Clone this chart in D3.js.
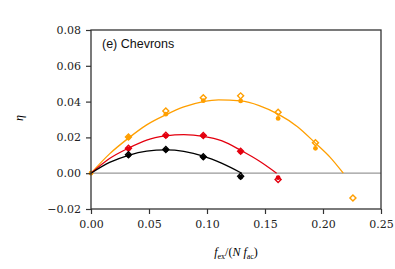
<!DOCTYPE html>
<meta charset="utf-8">
<style>
body{ margin:0; background:#fff; }
svg text{ font-family: "DejaVu Serif", "Liberation Serif", serif; }
</style>
<div id="chart"></div>
<script src="https://cdn.jsdelivr.net/npm/d3@7"></script>
<script>

// measured points (x, filled marker, open diamond)
var xs = [0, 0.0323, 0.0645, 0.0968, 0.129, 0.1613, 0.1935, 0.2258]

var orangeFilled = [0, 0.0200, 0.0330, 0.0405, 0.0404, 0.0306, 0.0139, null]
var orangeOpen   = [null, 0.0202, 0.0347, 0.0422, 0.0432, 0.0340, 0.0170, -0.0138]
var redFilled    = [null, 0.0136, 0.0208, 0.0208, 0.0120, -0.0025, null, null]
var redOpen      = [null, 0.0140, 0.0212, 0.0210, 0.0123, -0.0035, null, null]
var blackFilled  = [null, 0.0100, 0.0130, 0.0089, -0.0022, null, null, null]
var blackOpen    = [null, 0.0103, 0.0133, 0.0092, -0.0017, null, null, null]

// fitted curves
var orangeFitX = [0, 0.016, 0.0323, 0.048, 0.0645, 0.08, 0.0968, 0.11, 0.129, 0.145, 0.1613, 0.178, 0.1935, 0.206, 0.2175]
var orangeFitY = [0, 0.0108, 0.0196, 0.0270, 0.0326, 0.0370, 0.0400, 0.0410, 0.0404, 0.0378, 0.0330, 0.0260, 0.0168, 0.0090, 0]
var redFitX = [0, 0.016, 0.0323, 0.048, 0.0645, 0.08, 0.0968, 0.113, 0.129, 0.145, 0.160]
var redFitY = [0, 0.0082, 0.0140, 0.0185, 0.0208, 0.0215, 0.0206, 0.0180, 0.0128, 0.0068, 0]
var blackFitX = [0, 0.016, 0.0323, 0.048, 0.0645, 0.08, 0.0968, 0.113, 0.130]
var blackFitY = [0, 0.0060, 0.0100, 0.0123, 0.0130, 0.0122, 0.0096, 0.0055, 0]

var xTicks = [0, 0.05, 0.10, 0.15, 0.20, 0.25]
var yTicks = [-0.02, 0, 0.02, 0.04, 0.06, 0.08]

var W = 395, H = 269
var m = {top: 30, right: 14, bottom: 60, left: 91}

var svg = d3.select('#chart').append('svg')
    .attr('width', W).attr('height', H)

var x = d3.scaleLinear().domain([0, 0.25]).range([m.left, W - m.right])
var y = d3.scaleLinear().domain([-0.02, 0.08]).range([H - m.bottom, m.top])

// zero line
svg.append('line')
    .attr('x1', x(0)).attr('x2', x(0.25))
    .attr('y1', y(0)).attr('y2', y(0))
    .attr('stroke', '#999').attr('stroke-width', 1.2)

var series = [
  {color: '#ff9f00', fx: orangeFitX, fy: orangeFitY, filled: orangeFilled, open: orangeOpen},
  {color: '#e4000f', fx: redFitX, fy: redFitY, filled: redFilled, open: redOpen},
  {color: '#000000', fx: blackFitX, fy: blackFitY, filled: blackFilled, open: blackOpen}
]

var line = d3.line()
    .x(function(d){ return x(d[0]) })
    .y(function(d){ return y(d[1]) })
    .curve(d3.curveMonotoneX)

// matplotlib style 'D': a square turned 45 degrees
var diamond = d3.symbol().type(d3.symbolSquare).size(18)
var dot = d3.symbol().type(d3.symbolCircle).size(18)

series.forEach(function(s){
  svg.append('path')
      .attr('d', line(d3.zip(s.fx, s.fy)))
      .attr('fill', 'none')
      .attr('stroke', s.color)
      .attr('stroke-width', 1.3)

  var filled = xs.map(function(v, i){ return [v, s.filled[i]] }).filter(function(d){ return d[1] != null })
  var open = xs.map(function(v, i){ return [v, s.open[i]] }).filter(function(d){ return d[1] != null })

  svg.selectAll(null).data(filled).enter().append('path')
      .attr('d', dot)
      .attr('transform', function(d){ return 'translate(' + x(d[0]) + ',' + y(d[1]) + ')' })
      .attr('fill', s.color)

  svg.selectAll(null).data(open).enter().append('path')
      .attr('d', diamond)
      .attr('transform', function(d){ return 'translate(' + x(d[0]) + ',' + y(d[1]) + ') rotate(45)' })
      .attr('fill', 'none')
      .attr('stroke', s.color)
      .attr('stroke-width', 1.4)
})

// frame
svg.append('rect')
    .attr('x', x(0)).attr('y', y(0.08))
    .attr('width', x(0.25) - x(0)).attr('height', y(-0.02) - y(0.08))
    .attr('fill', 'none').attr('stroke', '#333').attr('stroke-width', 1.3)

var xAxis = svg.append('g')
    .attr('transform', 'translate(0,' + y(-0.02) + ')')
    .call(d3.axisBottom(x).tickValues(xTicks).tickFormat(d3.format('.2f')).tickSize(5).tickPadding(6))
var yAxis = svg.append('g')
    .attr('transform', 'translate(' + x(0) + ',0)')
    .call(d3.axisLeft(y).tickValues(yTicks).tickFormat(function(d){ return d < 0 ? '\u2212' + d3.format('.2f')(-d) : d3.format('.2f')(d) }).tickSize(5).tickPadding(5))

;[xAxis, yAxis].forEach(function(g){
  g.select('.domain').remove()
  g.selectAll('.tick line').attr('stroke', '#333').attr('stroke-width', 1.2)
  g.selectAll('.tick text').attr('fill', '#222').style('font-size', '11px')
      .style('font-family', '"DejaVu Serif", "Liberation Serif", serif')
})

svg.append('text')
    .attr('x', 102).attr('y', 48)
    .style('font-family', '"Liberation Sans", Arial, sans-serif')
    .style('font-size', '12.5px')
    .attr('fill', '#111')
    .text('(e)  Chevrons')

svg.append('text')
    .attr('transform', 'translate(23,118) rotate(-90)')
    .attr('text-anchor', 'middle')
    .style('font-family', '"Liberation Serif", serif')
    .style('font-style', 'italic')
    .style('font-size', '12px')
    .text('\u03b7')

var xl = svg.append('text')
    .attr('x', 236).attr('y', 256)
    .attr('text-anchor', 'middle')
    .style('font-family', '"Liberation Serif", serif')
    .style('font-size', '12px')
xl.append('tspan').style('font-style', 'italic').text('f')
xl.append('tspan').attr('dy', 3).style('font-size', '8px').text('ex')
xl.append('tspan').attr('dy', -3).text('/(')
xl.append('tspan').style('font-style', 'italic').text('N f')
xl.append('tspan').attr('dy', 3).style('font-size', '8px').text('ac')
xl.append('tspan').attr('dy', -3).text(')')

</script>
